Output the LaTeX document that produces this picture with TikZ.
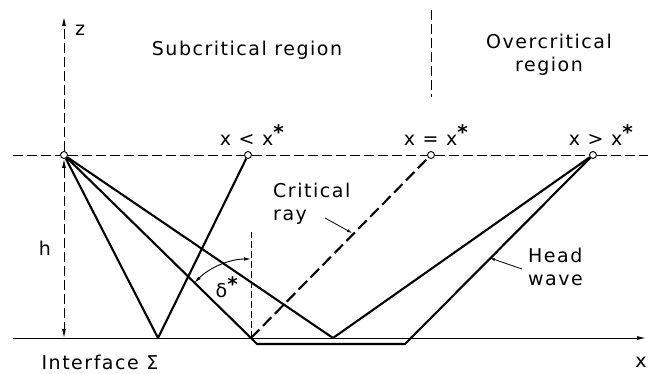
\documentclass[tikz,border=0pt]{standalone}
\usepackage{fontspec}
\setmainfont{DejaVu Sans}[LetterSpace=8]
\usetikzlibrary{arrows.meta}
\newcommand{\stx}{\textsuperscript{\fontsize{20}{20}\selectfont\bfseries *}}
\begin{document}
\begin{tikzpicture}[x=1pt,y=1pt,
  ray/.style={line width=2.1pt,line join=round},
  thindash/.style={line width=0.9pt, dash pattern=on 10pt off 4pt},
  recv/.style={circle,draw,line width=0.9pt,fill=white,inner sep=0pt,minimum size=7pt},
  lbl/.style={font=\fontsize{19}{23}\selectfont, inner sep=0pt},
  tip/.style={-{Latex[length=9pt,width=4pt]}},
  ptr/.style={line width=0.8pt,-{Latex[length=5pt,width=3pt]}}]
\useasboundingbox (0,0) rectangle (648,373);
% nodes
\node[recv] (S) at (64,218) {};
\node[recv] (X1) at (248,218) {};
\node[recv] (X2) at (431,218) {};
\node[recv] (X3) at (593,218) {};
\coordinate (L) at (13,218);
\coordinate (Rr) at (648,218);
\coordinate (IL) at (13,35);
\coordinate (IR) at (646,35);
\coordinate (Ztop) at (64,356);
\coordinate (B) at (64,35);
\coordinate (P1) at (158,35);
\coordinate (C) at (251,35);
\coordinate (P3) at (333,35);
\coordinate (H1) at (257,29);
\coordinate (H2) at (405,29);
\coordinate (Dtop) at (431,363);
\coordinate (Dbot) at (431,276);
\coordinate (Ctop) at (251,141);
% axes and guide lines
\draw[thindash] (L) -- (S) (S) -- (X1) (X1) -- (X2) (X2) -- (X3) (X3) -- (Rr);
\draw[line width=1pt, tip] (IL) -- (IR);
\draw[thindash, tip] (S) -- (Ztop);
\draw[thindash, {Latex[length=9pt,width=4pt]}-{Latex[length=9pt,width=4pt]}] (S) -- (B);
\draw[thindash] (Dtop) -- (Dbot);
\draw[line width=0.9pt, dash pattern=on 7pt off 3pt] (C) -- (Ctop);
% rays
\draw[ray] (S) -- (P1) -- (X1);
\draw[ray] (S) -- (C);
\draw[ray, dash pattern=on 12pt off 5pt] (C) -- (X2);
\draw[ray] (S) -- (P3) -- (X3);
\draw[ray] (C) -- (H1) -- (H2) -- (X3);
% angle
\draw[line width=0.9pt, {Latex[length=7pt,width=3.5pt]}-{Latex[length=7pt,width=3.5pt]}] ([shift={(90:79)}]C) arc[start angle=90,end angle=135.6,radius=79];
% pointers
\coordinate (cp1) at (325,155);
\coordinate (cp2) at (352,140);
\draw[ptr] (cp1) -- (cp2);
\coordinate (hp1) at (522,104);
\coordinate (hp2) at (490,115);
\draw[ptr] (hp1) -- (hp2);
% labels
\node[lbl] (zl) at (80,343) {z};
\node[lbl] (sub) at (247,323) {Subcritical region};
\node[lbl, align=center] (over) at (549,318) {Overcritical\\region};
\node[lbl] (l1) at (252,238) {x < x\stx};
\node[lbl] (l2) at (436,238) {x = x\stx};
\node[lbl] (l3) at (601,238) {x > x\stx};
\node[lbl, align=left, anchor=north west] (crit) at (273,190) {Critical\\ray};
\node[lbl, align=left, anchor=north west] (head) at (528,125) {Head\\wave};
\node[lbl] (hl) at (45,125) {h};
\node[lbl] (dl) at (227,86) {δ\stx};
\node[lbl] (ifc) at (100,11) {Interface Σ};
\node[lbl] (xl) at (641,11) {x};
\end{tikzpicture}
\end{document}
